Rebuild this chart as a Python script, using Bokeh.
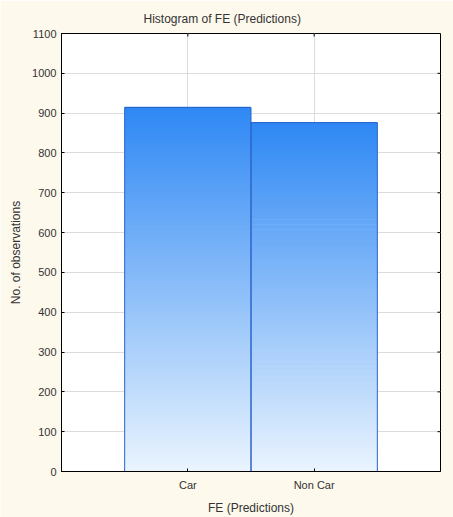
from bokeh.plotting import figure
from bokeh.models import Range1d, FixedTicker
from bokeh.embed import file_html
from bokeh.resources import INLINE

# data
categories = ["Car", "Non Car"]
counts = [914, 876]
positions = [1, 2]
y_ticks = list(range(0, 1101, 100))
title_text = "Histogram of  FE (Predictions)"

BG = "#fdf9ec"
FONT = "Liberation Sans"
TXT = "#333333"
X0, X1, Y0, Y1 = 0, 3, 0, 1100

p = figure(width=453, height=517, output_backend="svg", toolbar_location=None,
           x_range=Range1d(X0, X1), y_range=Range1d(Y0, Y1),
           background_fill_color="white", border_fill_color=BG,
           min_border_left=61, min_border_right=13, min_border_top=33, min_border_bottom=10)

p.title.text = title_text
p.title.align = "left"
p.title.offset = 82
p.title.standoff = 16
p.title.text_font = FONT
p.title.text_font_size = "12px"
p.title.text_font_style = "normal"
p.title.text_color = TXT

# gradient bars from data
N = 140
top_c = (46, 136, 244)
bot_c = (234, 244, 254)
for x, v in zip(positions, counts):
    bottoms, tops, colors = [], [], []
    for i in range(N):
        t = (i + 0.5) / N
        c = tuple(int(round(b + (a - b) * t)) for a, b in zip(top_c, bot_c))
        bottoms.append(v * i / N)
        tops.append(v * (i + 1) / N + v * 0.002)
        colors.append("#%02x%02x%02x" % c)
    p.quad(left=x - 0.5, right=x + 0.5, bottom=bottoms, top=tops,
           fill_color=colors, line_color=None)
p.quad(left=[x - 0.5 for x in positions], right=[x + 0.5 for x in positions],
       bottom=0, top=counts, fill_color=None, line_color="#2a64cc", line_width=1)

# axes
xa = p.xaxis[0]
xa.ticker = FixedTicker(ticks=positions)
xa.major_label_overrides = {1: "Car", 2: "Non Car"}
xa.axis_label = "FE (Predictions)"
ya = p.yaxis[0]
ya.ticker = FixedTicker(ticks=y_ticks)
ya.axis_label = "No. of observations"
for ax in (xa, ya):
    ax.axis_line_color = "black"
    ax.major_tick_line_color = "black"
    ax.major_tick_in = 3
    ax.major_tick_out = 0
    ax.minor_tick_line_color = None
    ax.major_label_text_font = FONT
    ax.major_label_text_font_size = "11px"
    ax.major_label_text_color = TXT
    ax.axis_label_text_font = FONT
    ax.axis_label_text_font_size = "12px"
    ax.axis_label_text_font_style = "normal"
    ax.axis_label_text_color = TXT
xa.major_label_standoff = 7
xa.axis_label_standoff = 7
ya.major_label_standoff = 5
ya.axis_label_standoff = 6

# inward ticks on right and top edges
dx = 3 * (X1 - X0) / 379
dy = 3 * (Y1 - Y0) / 437
p.segment(x0=[X1] * len(y_ticks), x1=[X1 - dx] * len(y_ticks), y0=y_ticks, y1=y_ticks,
          line_color="black", line_width=1)
p.segment(x0=positions, x1=positions, y0=[Y1] * len(positions), y1=[Y1 - dy] * len(positions),
          line_color="black", line_width=1)

p.xgrid.ticker = FixedTicker(ticks=positions)
p.ygrid.ticker = FixedTicker(ticks=y_ticks)
p.xgrid.grid_line_color = "#dcdcdc"
p.ygrid.grid_line_color = "#dcdcdc"
p.outline_line_color = "black"
p.outline_line_width = 1

open("out.html", "w").write(file_html(p, INLINE))
